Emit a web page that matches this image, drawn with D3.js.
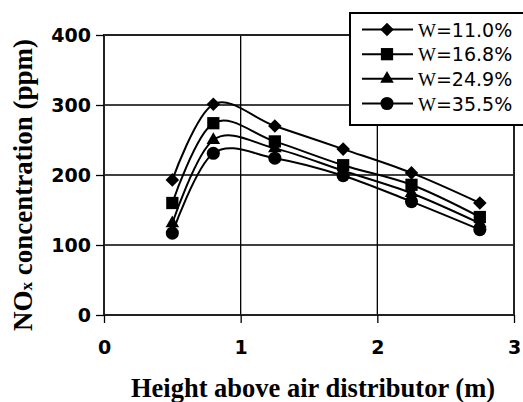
<!DOCTYPE html>
<html lang="en">
<head>
    <meta charset="UTF-8">
    <script src="https://d3js.org/d3.v7.min.js"></script>
    <title>NOx concentration vs height</title>
    <style>
        body { margin: 0; background: #fff; }
    </style>
</head>
<body>
<div id="chart"></div>
<script>
    // data
    let heights = [0.5, 0.8, 1.25, 1.75, 2.25, 2.75];
    let seriesNames = ["W=11.0%", "W=16.8%", "W=24.9%", "W=35.5%"];
    let w110 = [193, 301, 270, 237, 203, 160];
    let w168 = [160, 274, 248, 214, 186, 140];
    let w249 = [131, 250, 238, 206, 174, 131];
    let w355 = [117, 231, 224, 199, 162, 122];
    let xTicks = [0, 1, 2, 3];
    let yTicks = [0, 100, 200, 300, 400];

    let allSeries = [w110, w168, w249, w355];
    let symbols = ["diamond", "square", "triangle", "circle"];

    let width = 523, height = 402;
    let margin = {top: 35, right: 9, bottom: 87, left: 104};

    let svg = d3.select("#chart").append("svg")
        .attr("width", width)
        .attr("height", height);

    let x = d3.scaleLinear().domain([0, 3]).range([margin.left, width - margin.right]);
    let y = d3.scaleLinear().domain([0, 400]).range([height - margin.bottom, margin.top]);

    // grid lines
    svg.append("g").selectAll("line.h")
        .data(yTicks.slice(1, -1))
        .enter().append("line")
        .attr("x1", x(0)).attr("x2", x(3))
        .attr("y1", d => y(d)).attr("y2", d => y(d))
        .attr("stroke", "#000").attr("stroke-width", 1.3);
    svg.append("g").selectAll("line.v")
        .data(xTicks.slice(1, -1))
        .enter().append("line")
        .attr("x1", d => x(d)).attr("x2", d => x(d))
        .attr("y1", y(0)).attr("y2", y(400))
        .attr("stroke", "#000").attr("stroke-width", 1.3);

    // plot frame
    svg.append("rect")
        .attr("x", x(0)).attr("y", y(400))
        .attr("width", x(3) - x(0)).attr("height", y(0) - y(400))
        .attr("fill", "none").attr("stroke", "#222").attr("stroke-width", 2);

    // axes
    let xAxis = svg.append("g")
        .attr("transform", "translate(0," + y(0) + ")")
        .call(d3.axisBottom(x).tickValues(xTicks).tickFormat(d3.format("d")).tickSize(8).tickPadding(18));
    let yAxis = svg.append("g")
        .attr("transform", "translate(" + x(0) + ",0)")
        .call(d3.axisLeft(y).tickValues(yTicks).tickSize(8).tickPadding(5));
    [xAxis, yAxis].forEach(function (a) {
        a.select(".domain").remove();
        a.selectAll(".tick line").attr("stroke", "#000").attr("stroke-width", 1.3);
        a.selectAll(".tick text")
            .attr("fill", "#000")
            .style("font-family", "'DejaVu Sans', sans-serif")
            .style("font-weight", "bold")
            .style("font-size", "19px");
    });

    // lines, smoothed like the spreadsheet curves
    let line = d3.line()
        .x((d, i) => x(heights[i]))
        .y(d => y(d))
        .curve(d3.curveCatmullRom.alpha(0));

    svg.append("g").selectAll("path")
        .data(allSeries)
        .enter().append("path")
        .attr("d", d => line(d))
        .attr("fill", "none")
        .attr("stroke", "#000")
        .attr("stroke-width", 2);

    let symbolPath = function (name) {
        if (name === "diamond") return d3.symbol().type(d3.symbolSquare).size(92)();
        if (name === "square") return d3.symbol().type(d3.symbolSquare).size(150)();
        if (name === "triangle") return d3.symbol().type(d3.symbolTriangle).size(80)();
        return d3.symbol().type(d3.symbolCircle).size(135)();
    };
    let symbolRotate = function (name) { return name === "diamond" ? " rotate(45)" : ""; };

    allSeries.forEach(function (vals, s) {
        svg.append("g").selectAll("path")
            .data(vals)
            .enter().append("path")
            .attr("d", symbolPath(symbols[s]))
            .attr("transform", (d, i) => "translate(" + x(heights[i]) + "," + y(d) + ")" + symbolRotate(symbols[s]))
            .attr("fill", "#000");
    });

    // legend
    let legend = svg.append("g");
    legend.append("rect")
        .attr("x", 350).attr("y", 13)
        .attr("width", 185).attr("height", 112)
        .attr("fill", "#fff").attr("stroke", "#000").attr("stroke-width", 2);
    let legendY = d3.scaleLinear().domain([0, 3]).range([29.5, 103.5]);
    seriesNames.forEach(function (name, s) {
        let ly = legendY(s);
        legend.append("line")
            .attr("x1", 362).attr("x2", 413)
            .attr("y1", ly).attr("y2", ly)
            .attr("stroke", "#000").attr("stroke-width", 2);
        legend.append("path")
            .attr("d", symbolPath(symbols[s]))
            .attr("transform", "translate(387," + ly + ")" + symbolRotate(symbols[s]))
            .attr("fill", "#000");
        let t = legend.append("text")
            .attr("x", 418).attr("y", ly + 7)
            .style("font-size", "19px")
            .attr("fill", "#000");
        t.append("tspan").style("font-family", "'Liberation Serif', serif").text(name.slice(0, 1));
        t.append("tspan").style("font-family", "'DejaVu Sans', sans-serif").text(name.slice(1));
    });

    // axis titles
    svg.append("text")
        .attr("x", (x(0) + x(3)) / 2 + 4)
        .attr("y", 397)
        .attr("text-anchor", "middle")
        .style("font-family", "'Liberation Serif', serif")
        .style("font-weight", "bold")
        .style("font-size", "26.5px")
        .text("Height above air distributor (m)");

    let yTitle = svg.append("text")
        .attr("transform", "translate(32,185) rotate(-90)")
        .attr("text-anchor", "middle")
        .style("font-family", "'Liberation Serif', serif")
        .style("font-weight", "bold")
        .style("font-size", "27px");
    yTitle.append("tspan").text("NO");
    yTitle.append("tspan").style("font-size", "17px").text("x");
    yTitle.append("tspan").text(" concentration (ppm)");
</script>
</body>
</html>
